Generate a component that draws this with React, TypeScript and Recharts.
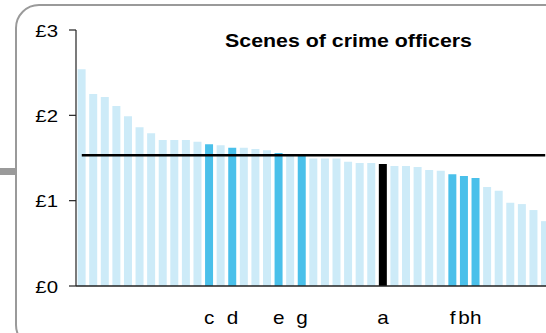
import React from "react";
import { BarChart, Bar, XAxis, YAxis, Cell, ReferenceLine } from "recharts";

const ids = Array.from({ length: 41 }, (_, i) => `f${i + 1}`);

const labels = [
  "", "", "", "", "", "", "", "", "", "", "", "c", "", "d", "", "", "", "e", "", "g",
  "", "", "", "", "", "", "a", "", "", "", "", "", "f", "b", "h", "", "", "", "", "", "",
];

const values = [
  2.54, 2.25, 2.215, 2.11, 1.99, 1.86, 1.79, 1.71, 1.71, 1.71, 1.69, 1.66, 1.65, 1.62,
  1.62, 1.605, 1.59, 1.56, 1.545, 1.54, 1.495, 1.495, 1.495, 1.455, 1.44, 1.44, 1.43,
  1.405, 1.405, 1.395, 1.36, 1.35, 1.31, 1.29, 1.265, 1.16, 1.115, 0.975, 0.96, 0.89, 0.76,
];

const averageValue = 1.532;
const yTicks = [0, 1, 2, 3];
const title = "Scenes of crime officers";

const highlighted = ["c", "d", "e", "g", "f", "b", "h"];
const selected = ["a"];

const data = ids.map((id, i) => ({ id, label: labels[i], value: values[i] }));
const labelById: Record<string, string> = Object.fromEntries(ids.map((id, i) => [id, labels[i]]));

const LIGHT = "#cdebf8";
const DARK = "#4ac0ea";
const BLACK = "#000000";
const FONT = "'Liberation Sans', Arial, Helvetica, sans-serif";

const colorFor = (label: string) =>
  selected.includes(label) ? BLACK : highlighted.includes(label) ? DARK : LIGHT;

const YTick = (props: any) => {
  const { x, y, payload } = props;
  return (
    <g transform={`translate(${x},${y}) scale(1.2,1)`}>
      <text x={0} y={0} dy={6.5} textAnchor="end" fontSize={17} fontFamily={FONT} fill="#000">
        {`£${payload.value}`}
      </text>
    </g>
  );
};

const XTick = (props: any) => {
  const { x, y, payload } = props;
  const lab = labelById[payload.value] || "";
  if (!lab) return null;
  return (
    <g transform={`translate(${x},${y + 38}) scale(1.15,1)`}>
      <text x={0} y={0} textAnchor="middle" fontSize={18} fontFamily={FONT} fill="#000">
        {lab}
      </text>
    </g>
  );
};

export default function App() {
  return (
    <div
      style={{
        position: "fixed",
        left: 0,
        top: 0,
        width: 546,
        height: 333,
        overflow: "hidden",
        background: "#fff",
      }}
    >
      <div
        style={{
          position: "absolute",
          left: 15,
          top: 4,
          width: 560,
          height: 345,
          border: "2.5px solid #9a9a9a",
          borderRadius: 24,
          boxSizing: "border-box",
        }}
      />
      <div
        style={{
          position: "absolute",
          left: 0,
          top: 168,
          width: 16,
          height: 7,
          background: "#9a9a9a",
        }}
      />
      <div style={{ position: "absolute", left: 0, top: 0 }}>
        <BarChart
          width={551}
          height={333}
          data={data}
          margin={{ top: 30, right: 0, bottom: 0, left: 0 }}
          barCategoryGap="14%"
        >
          <XAxis
            dataKey="id"
            interval={0}
            tickLine={false}
            tickSize={0}
            tickMargin={0}
            height={47}
            axisLine={{ stroke: "#222", strokeWidth: 1.5 }}
            tick={<XTick />}
          />
          <YAxis
            width={76}
            domain={[0, 3]}
            ticks={yTicks}
            interval={0}
            tickSize={7}
            tickMargin={11}
            axisLine={{ stroke: "#222", strokeWidth: 1.2 }}
            tickLine={{ stroke: "#222", strokeWidth: 1.2 }}
            tick={<YTick />}
          />
          <Bar dataKey="value" isAnimationActive={false}>
            {data.map((d) => (
              <Cell key={d.id} fill={colorFor(d.label)} />
            ))}
          </Bar>
          <ReferenceLine
            segment={[
              { x: ids[0], y: averageValue },
              { x: ids[ids.length - 1], y: averageValue },
            ]}
            stroke="#000"
            strokeWidth={2.5}
          />
          <text
            x={225}
            y={47}
            textLength={247}
            lengthAdjust="spacingAndGlyphs"
            fontSize={18}
            fontWeight="bold"
            fontFamily={FONT}
            fill="#000"
          >
            {title}
          </text>
        </BarChart>
      </div>
    </div>
  );
}
